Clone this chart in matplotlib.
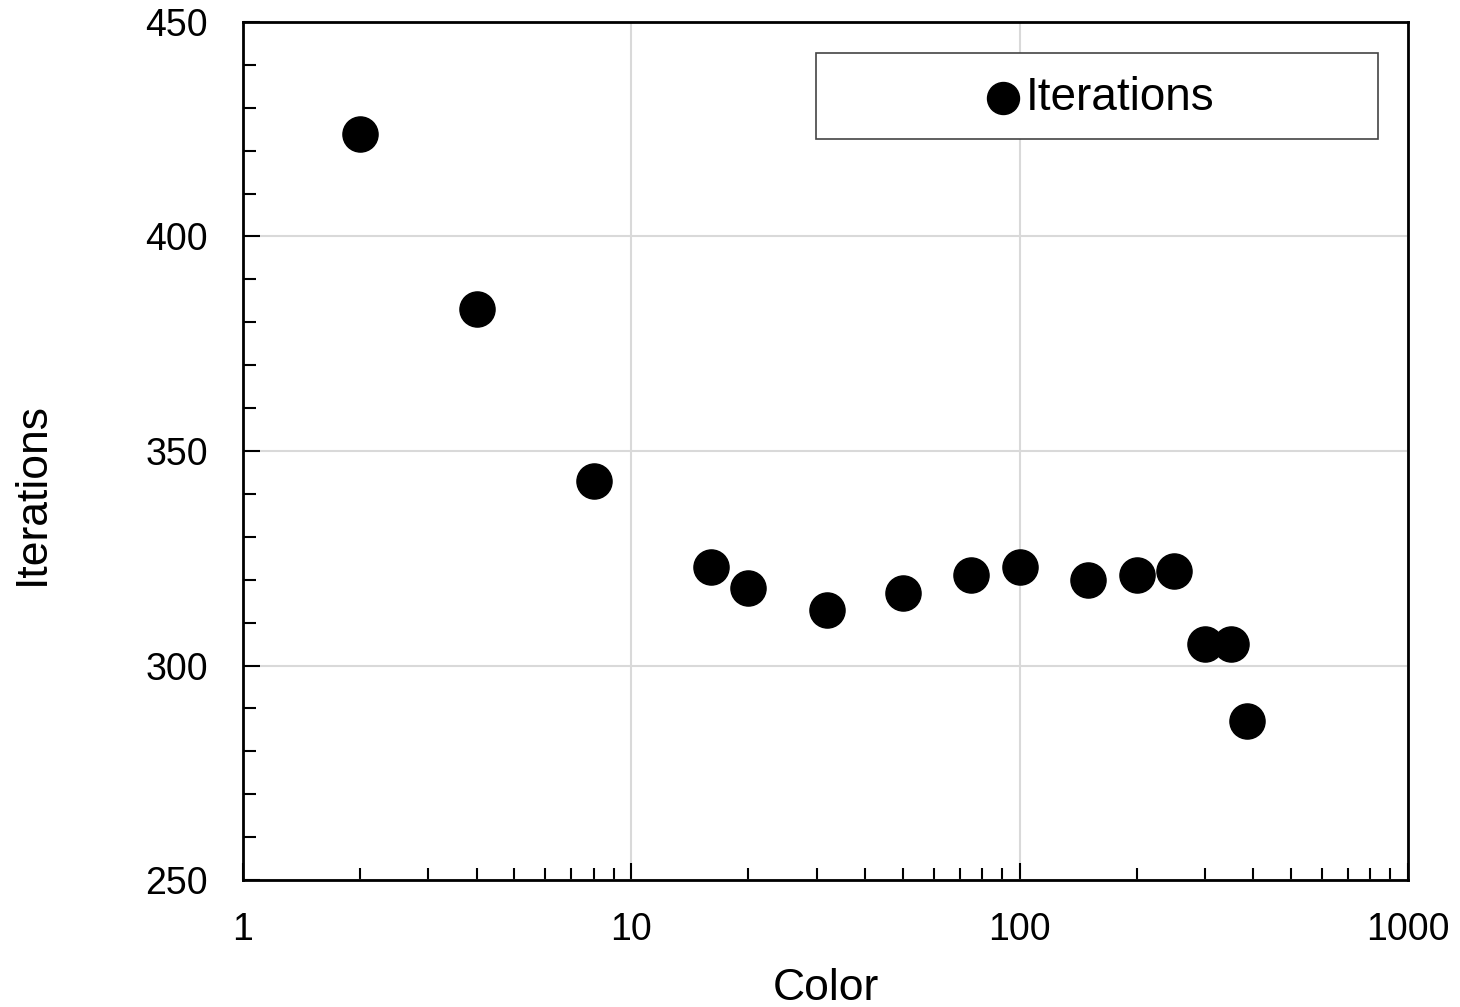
import matplotlib
matplotlib.use("Agg")
import matplotlib.pyplot as plt
from matplotlib.patches import Rectangle
from matplotlib.ticker import MultipleLocator, LogLocator, NullFormatter, FixedLocator

plt.rcParams['font.family'] = ['Liberation Sans', 'DejaVu Sans']

# data
colors = [2, 4, 8, 16, 20, 32, 50, 75, 100, 150, 200, 250, 300, 350, 384]
iterations = [424, 383, 343, 323, 318, 313, 317, 321, 323, 320, 321, 322, 305, 305, 287]
x_ticks = [1, 10, 100, 1000]
x_tick_labels = ['1', '10', '100', '1000']

fig = plt.figure(figsize=(14.6, 10.07), dpi=100)
ax = fig.add_axes([0.1664, 0.1261, 0.798, 0.8521])

ax.scatter(colors, iterations, s=640, color='black', zorder=3, label='Iterations')

ax.set_xscale('log')
ax.set_xlim(1, 1000)
ax.set_ylim(250, 450)

ax.xaxis.set_major_locator(FixedLocator(x_ticks))
ax.set_xticklabels(x_tick_labels)
ax.xaxis.set_minor_locator(LogLocator(base=10, subs=range(2, 10)))
ax.xaxis.set_minor_formatter(NullFormatter())
ax.yaxis.set_major_locator(MultipleLocator(50))
ax.yaxis.set_minor_locator(MultipleLocator(10))

ax.grid(True, which='major', color='#d9d9d9', linewidth=1.5, zorder=0)
ax.set_axisbelow(True)

ax.tick_params(which='both', direction='in', top=False, right=False, width=1.5,
               labelsize=27, colors='black')
ax.tick_params(axis='x', which='both', pad=23)
ax.tick_params(axis='y', which='both', pad=25)
ax.tick_params(which='major', length=12)
ax.tick_params(which='minor', length=9)
for sp in ax.spines.values():
    sp.set_linewidth(2)
    sp.set_color('black')

ax.set_xlabel('Color', fontsize=32)
ax.set_ylabel('Iterations', fontsize=32)
ax.xaxis.set_label_coords(0.5, -0.102)
ax.yaxis.set_label_coords(-0.163, 0.451)

# legend frame drawn separately so the entry stays centered
ax.add_patch(Rectangle((0.492, 0.864), 0.482, 0.1, transform=ax.transAxes,
                       facecolor='white', edgecolor='#444444', linewidth=1.2, zorder=4))
leg = ax.legend(loc='center', bbox_to_anchor=(0.733, 0.911), frameon=False,
                fontsize=33, markerscale=0.91, handlelength=1.0,
                handletextpad=0.0, borderpad=0)
leg.set_zorder(5)

fig.savefig('out.png', dpi=100)
